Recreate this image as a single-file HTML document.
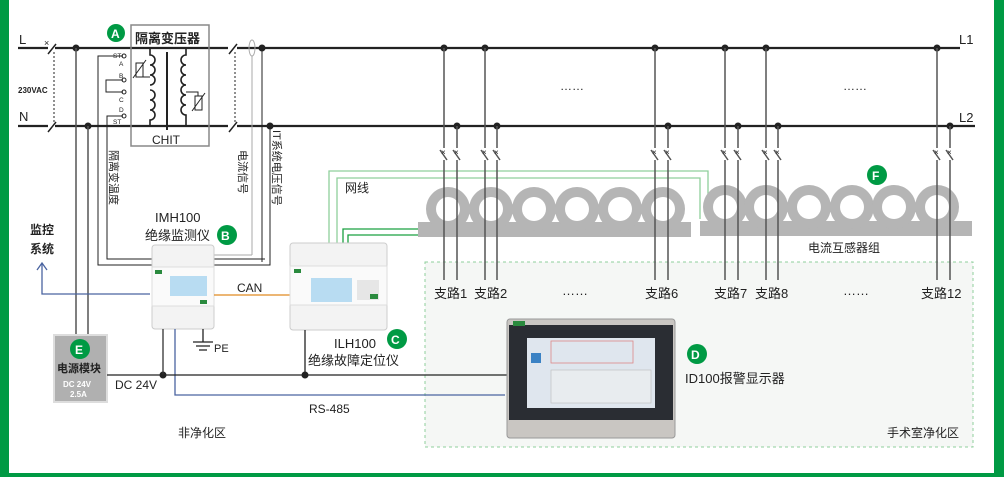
<!DOCTYPE html>
<html><head><meta charset="utf-8"><style>
html,body{margin:0;padding:0;background:#fff}
svg{display:block}
text{font-family:"Liberation Sans","Noto Sans CJK SC",sans-serif;fill:#222}
</style></head><body>
<svg width="1004" height="477" viewBox="0 0 1004 477" xmlns="http://www.w3.org/2000/svg">
<rect x="0" y="0" width="9" height="477" fill="#009a44"/>
<rect x="994" y="0" width="10" height="477" fill="#009a44"/>
<rect x="0" y="473" width="1004" height="4" fill="#009a44"/>

<!-- clean room area -->
<rect x="425" y="262" width="548" height="185" fill="#f5f7f5" stroke="#8fcf9c" stroke-dasharray="3,3"/>

<!-- L / N lines -->
<g stroke="#222" stroke-width="2.2" fill="none">
<line x1="18" y1="48" x2="48" y2="48"/><line x1="55" y1="48" x2="228" y2="48"/>
<line x1="237" y1="48" x2="960" y2="48"/>
<line x1="18" y1="126" x2="48" y2="126"/><line x1="55" y1="126" x2="228" y2="126"/>
<line x1="237" y1="126" x2="975" y2="126"/>
<line x1="48" y1="54" x2="56" y2="44" stroke-width="1.5"/>
<line x1="48" y1="132" x2="56" y2="122" stroke-width="1.5"/>
<line x1="229" y1="54" x2="237" y2="44" stroke-width="1.5"/>
<line x1="229" y1="132" x2="237" y2="122" stroke-width="1.5"/>
</g>
<g stroke="#222" stroke-width="1" stroke-dasharray="2,2">
<line x1="54" y1="52" x2="54" y2="124"/><line x1="235" y1="52" x2="235" y2="124"/>
</g>
<text x="44" y="46" font-size="9">×</text>
<text x="19" y="44" font-size="13">L</text>
<text x="19" y="121" font-size="13">N</text>
<text x="18" y="93" font-size="8" font-weight="bold">230VAC</text>
<text x="959" y="44" font-size="13">L1</text>
<text x="959" y="122" font-size="13">L2</text>

<!-- transformer box -->
<rect x="131" y="25" width="78" height="121" fill="none" stroke="#888" stroke-width="1.5"/>
<text x="135" y="43" font-size="13" font-weight="bold">隔离变压器</text>
<circle cx="116" cy="33" r="9" fill="#009a44"/><text x="111" y="38" font-size="12" font-weight="bold" fill="#fff" style="fill:#fff">A</text>
<text x="152" y="144" font-size="12">CHIT</text>
<line x1="167" y1="52" x2="167" y2="130" stroke="#222" stroke-width="2"/>
<g fill="none" stroke="#222" stroke-width="1.6">
<path d="M150 48 V55 a5 5 0 0 1 0 10 a5 5 0 0 1 0 10 a5 5 0 0 1 0 10"/>
<path d="M150 90 a5 5 0 0 1 0 10 a5 5 0 0 1 0 10 a5 5 0 0 1 0 10 V126"/>
<path d="M186 48 V55 a5 5 0 0 0 0 10 a5 5 0 0 0 0 10 a5 5 0 0 0 0 10 a5 5 0 0 0 0 10 a5 5 0 0 0 0 10 a5 5 0 0 0 0 10 V126"/>
</g>
<g stroke="#222" stroke-width="1" fill="none">
<path d="M123 56 H98 V265 H270 V126"/>
<path d="M123 80 H106 V92 H123"/>
<path d="M123 116 H107 V259 H265"/>
<rect x="136" y="63" width="7" height="14"/><line x1="133" y1="78" x2="146" y2="60"/>
<path d="M143 77 H150"/>
<rect x="195" y="96" width="7" height="14"/><line x1="192" y1="111" x2="205" y2="93"/>
<path d="M186 92 H198 V96"/>
</g>
<g font-size="6.5"><text x="113" y="58">ST</text><text x="119" y="66">A</text><text x="119" y="78">B</text><text x="119" y="102">C</text><text x="119" y="112">D</text><text x="113" y="124">ST</text></g>
<g fill="none" stroke="#222"><circle cx="124" cy="56" r="2"/><circle cx="124" cy="80" r="2"/><circle cx="124" cy="92" r="2"/><circle cx="124" cy="116" r="2"/></g>
<!-- current sensor ellipse and signal lines -->
<ellipse cx="252" cy="48" rx="3" ry="8" fill="none" stroke="#aaa"/>
<line x1="252" y1="56" x2="252" y2="255" stroke="#aaa"/>
<path d="M214 255 H252" stroke="#aaa" fill="none"/>
<path d="M214 265 H270" stroke="#222" fill="none"/>
<path d="M98 265 H152" stroke="#222"/>
<g font-size="11" fill="#222">
<text transform="translate(110,150) rotate(90)">隔离变温度</text>
<text transform="translate(239,150) rotate(90)">电流信号</text>
<text transform="translate(273,130) rotate(90)">IT系统电压信号</text>
</g>
<!-- dots -->
<g fill="#222">
<circle cx="76" cy="48" r="3.5"/><circle cx="88" cy="126" r="3.5"/>
<circle cx="262" cy="48" r="3.5"/><circle cx="270" cy="126" r="3.5"/>
<circle cx="444" cy="48" r="3.5"/><circle cx="485" cy="48" r="3.5"/><circle cx="655" cy="48" r="3.5"/>
<circle cx="725" cy="48" r="3.5"/><circle cx="766" cy="48" r="3.5"/><circle cx="937" cy="48" r="3.5"/>
<circle cx="457" cy="126" r="3.5"/><circle cx="497" cy="126" r="3.5"/><circle cx="668" cy="126" r="3.5"/>
<circle cx="738" cy="126" r="3.5"/><circle cx="778" cy="126" r="3.5"/><circle cx="950" cy="126" r="3.5"/>
<circle cx="163" cy="375" r="3.5"/><circle cx="305" cy="375" r="3.5"/>
</g>
<line x1="262" y1="48" x2="262" y2="262" stroke="#222"/>
<line x1="76" y1="48" x2="76" y2="338" stroke="#555" stroke-width="1.5"/>
<line x1="88" y1="126" x2="88" y2="338" stroke="#555" stroke-width="1.5"/>

<!-- monitoring arrow -->
<text x="30" y="234" font-size="12" font-weight="bold">监控</text>
<text x="30" y="253" font-size="12" font-weight="bold">系统</text>
<path d="M42 264 V294 H150" stroke="#4a64a0" stroke-width="1.3" fill="none"/>
<path d="M37 270 L42 263 L47 270" stroke="#4a64a0" stroke-width="1.3" fill="none"/>

<!-- green network lines -->
<g fill="none" stroke-width="1.3">
<path d="M329 243 V171 H708 V219" stroke="#8fcf9c"/>
<path d="M337 243 V178 H700 V219" stroke="#8fcf9c"/>
<path d="M343 243 V229 H418" stroke="#1aa040"/>
<path d="M348 243 V235 H418" stroke="#1aa040"/>
</g>
<text x="345" y="192" font-size="12">网线</text>

<!-- CT groups -->
<g fill="#b5b5b5">
<rect x="418" y="222" width="273" height="15"/>
<circle cx="448" cy="209" r="22"/><circle cx="491" cy="209" r="22"/><circle cx="534" cy="209" r="22"/><circle cx="577" cy="209" r="22"/><circle cx="620" cy="209" r="22"/><circle cx="663" cy="209" r="22"/>
<rect x="700" y="221" width="272" height="15"/>
<circle cx="725" cy="207" r="22"/><circle cx="766" cy="207" r="22"/><circle cx="809" cy="207" r="22"/><circle cx="852" cy="207" r="22"/><circle cx="894" cy="207" r="22"/><circle cx="937" cy="207" r="22"/>
</g>
<g fill="#fff">
<circle cx="448" cy="209" r="12"/><circle cx="491" cy="209" r="12"/><circle cx="534" cy="209" r="12"/><circle cx="577" cy="209" r="12"/><circle cx="620" cy="209" r="12"/><circle cx="663" cy="209" r="12"/>
<circle cx="725" cy="207" r="12"/><circle cx="766" cy="207" r="12"/><circle cx="809" cy="207" r="12"/><circle cx="852" cy="207" r="12"/><circle cx="894" cy="207" r="12"/><circle cx="937" cy="207" r="12"/>
</g>
<circle cx="877" cy="175" r="10" fill="#009a44"/><text x="872" y="180" font-size="12" font-weight="bold" style="fill:#fff">F</text>
<text x="808" y="252" font-size="12">电流互感器组</text>

<!-- branch lines -->
<g stroke="#555" stroke-width="1.5" fill="none">
<path d="M444 48 V148 M440 150 L447 160 M444 160 V280"/>
<path d="M457 126 V148 M453 150 L460 160 M457 160 V280"/>
<path d="M485 48 V148 M481 150 L488 160 M485 160 V280"/>
<path d="M497 126 V148 M493 150 L500 160 M497 160 V280"/>
<path d="M655 48 V148 M651 150 L658 160 M655 160 V280"/>
<path d="M668 126 V148 M664 150 L671 160 M668 160 V280"/>
<path d="M725 48 V148 M721 150 L728 160 M725 160 V280"/>
<path d="M738 126 V148 M734 150 L741 160 M738 160 V280"/>
<path d="M766 48 V148 M762 150 L769 160 M766 160 V280"/>
<path d="M778 126 V148 M774 150 L781 160 M778 160 V280"/>
<path d="M937 48 V148 M933 150 L940 160 M937 160 V280"/>
<path d="M950 126 V148 M946 150 L953 160 M950 160 V280"/>
</g>
<g font-size="8" fill="#222">
<text x="441" y="155">×</text><text x="454" y="155">×</text><text x="482" y="155">×</text><text x="494" y="155">×</text>
<text x="652" y="155">×</text><text x="665" y="155">×</text><text x="722" y="155">×</text><text x="735" y="155">×</text>
<text x="763" y="155">×</text><text x="775" y="155">×</text><text x="934" y="155">×</text><text x="947" y="155">×</text>
</g>
<text x="560" y="90" font-size="12">……</text>
<text x="843" y="90" font-size="12">……</text>
<g font-size="13">
<text x="434" y="298">支路1</text><text x="474" y="298">支路2</text><text x="562" y="295">……</text>
<text x="645" y="298">支路6</text><text x="714" y="298">支路7</text><text x="755" y="298">支路8</text>
<text x="843" y="295">……</text><text x="921" y="298">支路12</text>
</g>

<!-- IMH100 -->
<text x="155" y="222" font-size="13">IMH100</text>
<text x="145" y="240" font-size="13">绝缘监测仪</text>
<circle cx="227" cy="235" r="10" fill="#009a44"/><text x="221" y="240" font-size="12" font-weight="bold" style="fill:#fff">B</text>
<rect x="152" y="245" width="62" height="84" rx="3" fill="#f3f3f3" stroke="#ccc"/>
<rect x="152" y="267" width="62" height="39" fill="#fafafa" stroke="#ddd"/>
<rect x="155" y="270" width="7" height="4" fill="#2a8a3e"/>
<rect x="170" y="276" width="37" height="20" fill="#b8dcf2"/>
<rect x="200" y="300" width="7" height="4" fill="#2a8a3e"/>
<line x1="163" y1="329" x2="163" y2="375" stroke="#333" stroke-width="1.3"/>
<path d="M175 329 V395 H505" stroke="#4a64a0" stroke-width="1.3" fill="none"/>
<path d="M203 329 V342 M193 342 H213 M196 346 H210 M199 350 H207" stroke="#222" stroke-width="1.3"/>
<text x="214" y="352" font-size="11">PE</text>

<!-- CAN -->
<line x1="214" y1="295" x2="290" y2="295" stroke="#e08a20" stroke-width="1.3"/>
<text x="237" y="292" font-size="12">CAN</text>

<!-- ILH100 -->
<rect x="290" y="243" width="97" height="87" rx="3" fill="#f3f3f3" stroke="#ccc"/>
<rect x="290" y="266" width="97" height="39" fill="#fafafa" stroke="#ddd"/>
<rect x="294" y="269" width="7" height="4" fill="#2a8a3e"/>
<rect x="311" y="278" width="41" height="24" fill="#b8dcf2"/>
<rect x="357" y="280" width="22" height="20" fill="#e6e6e6"/>
<rect x="370" y="294" width="8" height="5" fill="#2a8a3e"/>
<line x1="305" y1="330" x2="305" y2="375" stroke="#222" stroke-width="1.3"/>
<text x="334" y="348" font-size="13">ILH100</text>
<text x="308" y="365" font-size="13">绝缘故障定位仪</text>
<circle cx="397" cy="339" r="10" fill="#009a44"/><text x="391" y="344" font-size="12" font-weight="bold" style="fill:#fff">C</text>

<!-- power module -->
<rect x="54" y="335" width="53" height="67" fill="#b0b0b0" stroke="#ddd" stroke-width="2"/>
<circle cx="80" cy="349" r="10" fill="#009a44"/><text x="75" y="354" font-size="12" font-weight="bold" style="fill:#fff">E</text>
<text x="57" y="372" font-size="11" font-weight="bold">电源模块</text>
<text x="63" y="387" font-size="8" font-weight="bold" style="fill:#fff">DC 24V</text>
<text x="70" y="397" font-size="8" font-weight="bold" style="fill:#fff">2.5A</text>
<line x1="107" y1="375" x2="507" y2="375" stroke="#222" stroke-width="1.3"/>
<text x="115" y="389" font-size="12">DC 24V</text>
<text x="309" y="413" font-size="12">RS-485</text>
<text x="178" y="437" font-size="12">非净化区</text>
<text x="887" y="437" font-size="12">手术室净化区</text>

<!-- display -->
<rect x="507" y="319" width="168" height="119" rx="3" fill="#c9c6c2" stroke="#999"/>
<rect x="509" y="325" width="164" height="95" fill="#2a2d33"/>
<rect x="513" y="321" width="12" height="5" fill="#2a8a3e"/>
<rect x="527" y="338" width="128" height="70" fill="#dfe6ee"/>
<rect x="531" y="353" width="10" height="10" fill="#3b82c4"/>
<rect x="551" y="341" width="82" height="22" fill="none" stroke="#d88" stroke-width="0.8"/>
<rect x="551" y="370" width="100" height="33" fill="#e8ecef" stroke="#bbb" stroke-width="0.6"/>
<circle cx="697" cy="354" r="10" fill="#009a44"/><text x="691" y="359" font-size="12" font-weight="bold" style="fill:#fff">D</text>
<text x="685" y="383" font-size="13">ID100报警显示器</text>
</svg>
</body></html>
